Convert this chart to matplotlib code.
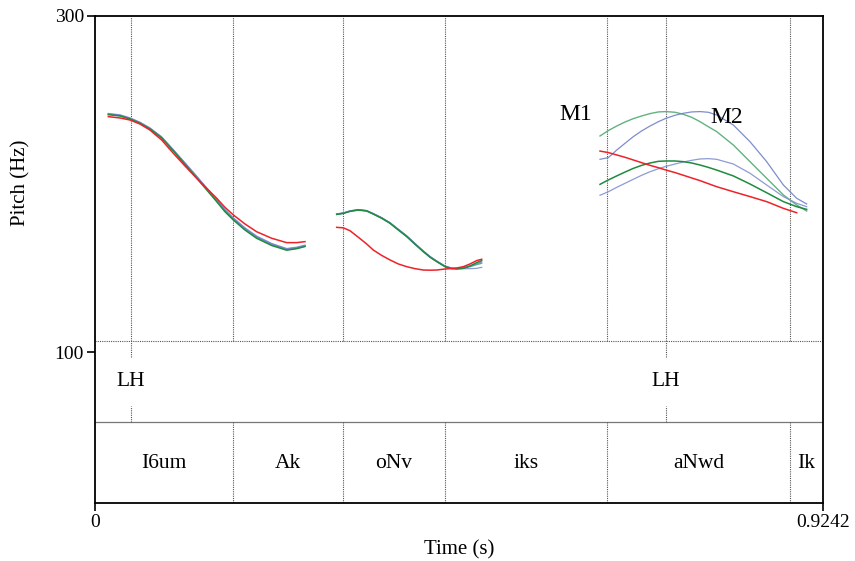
import matplotlib
matplotlib.use("Agg")
import matplotlib.pyplot as plt
import numpy as np

plt.rcParams['font.family'] = ['Liberation Serif', 'DejaVu Serif']

# pitch contours (time in s, pitch in Hz)
seg1_t = [0.0169, 0.0317, 0.0444, 0.0571, 0.0698, 0.0846, 0.0994, 0.1143, 0.1291, 0.1418,
          0.1545, 0.1650, 0.1756, 0.1904, 0.2052, 0.2243, 0.2433, 0.2560, 0.2666]
seg1_blue = [241.7, 240.9, 239.1, 236.5, 233.1, 227.8, 220.2, 212.3, 204.4, 197.4,
             190.5, 184.5, 179.6, 173.6, 168.7, 164.3, 161.3, 162.1, 163.3]
seg1_lblue = [242.0, 241.2, 239.4, 236.8, 233.4, 228.1, 220.5, 212.6, 204.7, 197.7,
              190.8, 184.8, 179.9, 173.9, 169.0, 164.6, 161.6, 162.4, 163.6]
seg1_lgreen = [241.5, 240.7, 238.9, 236.3, 232.9, 227.6, 220.0, 212.0, 204.0, 197.0,
               190.0, 184.0, 179.1, 173.1, 168.2, 163.9, 161.0, 161.8, 163.0]
seg1_green = [241.3, 240.5, 238.7, 236.1, 232.7, 227.4, 219.7, 211.6, 203.5, 196.5,
              189.5, 183.5, 178.6, 172.6, 167.7, 163.4, 160.6, 161.5, 162.8]
seg1_red = [240.1, 239.3, 238.1, 235.7, 232.1, 226.2, 218.3, 210.7, 203.4, 197.4,
            191.5, 186.1, 181.6, 176.2, 171.6, 167.7, 165.1, 165.1, 165.7]

seg2_t = [0.3068, 0.3153, 0.3237, 0.3343, 0.3449, 0.3533, 0.3639, 0.3745, 0.3851, 0.3957, 0.4063,
          0.4168, 0.4253, 0.4338, 0.4443, 0.4528, 0.4592, 0.4676, 0.4761, 0.4845, 0.4909]
seg2_red = [174.2, 173.9, 172.2, 168.3, 164.3, 160.7, 157.5, 154.8, 152.4, 150.8, 149.6,
            148.8, 148.7, 148.8, 149.4, 149.7, 150.0, 150.8, 152.4, 154.4, 155.2]
seg2_green = [181.9, 182.5, 183.7, 184.5, 183.9, 182.1, 179.6, 176.6, 172.6, 168.7, 164.1,
              159.7, 156.4, 153.8, 150.8, 149.6, 149.4, 149.8, 151.2, 153.2, 154.4]
seg2_lgreen = [182.1, 182.7, 183.9, 184.7, 184.1, 182.3, 179.8, 176.8, 172.8, 168.9, 164.3,
               159.9, 156.6, 154.0, 151.0, 149.8, 149.6, 149.9, 150.8, 152.0, 152.8]
seg2_blue = [182.2, 182.8, 184.0, 184.8, 184.2, 182.4, 180.0, 177.0, 173.1, 169.2, 164.6,
             160.2, 156.9, 154.2, 151.2, 150.0, 149.8, 150.2, 151.2, 152.4, 153.6]
seg2_lblue = [182.0, 182.6, 183.8, 184.6, 184.0, 182.2, 179.8, 176.8, 172.9, 169.0, 164.4,
              160.0, 156.7, 154.0, 151.0, 149.8, 149.6, 149.6, 149.6, 149.8, 150.4]

seg3_t = [0.6411, 0.6517, 0.6623, 0.6728, 0.6834, 0.6940, 0.7046, 0.7152, 0.7249, 0.7363, 0.7469,
          0.7575, 0.7681, 0.7786, 0.7892, 0.8104, 0.8315, 0.8527, 0.8739, 0.8908, 0.9035]
seg3_red = [219.6, 218.7, 217.3, 215.9, 214.3, 212.7, 211.1, 209.7, 208.3, 206.8, 205.2,
            203.6, 202.0, 200.2, 198.4, 195.4, 192.5, 189.5, 185.5, 182.9, np.nan]
seg3_green = [199.8, 202.4, 204.8, 207.1, 209.3, 211.1, 212.5, 213.5, 213.7, 213.7, 213.3,
              212.5, 211.3, 209.9, 208.3, 204.8, 200.0, 194.8, 189.5, 186.5, 184.9]
seg3_lgreen = [228.6, 231.8, 234.5, 236.9, 238.9, 240.5, 241.9, 242.9, 243.1, 242.7, 241.5,
               239.7, 237.1, 234.1, 231.2, 223.2, 213.3, 203.4, 193.5, 187.5, 183.9]
seg3_blue = [214.7, 215.7, 220.2, 224.2, 228.2, 231.6, 234.5, 237.1, 239.1, 240.9, 242.1,
             242.9, 243.1, 242.7, 241.1, 235.1, 225.2, 213.3, 199.4, 191.5, 188.1]
seg3_lblue = [193.3, 195.4, 198.0, 200.4, 202.8, 205.2, 207.3, 209.1, 210.5, 211.9, 213.1,
              214.1, 214.9, 215.1, 214.7, 211.9, 206.4, 199.4, 192.5, 188.5, 186.5]

# TextGrid
tone_times = [0.0453, 0.7249]
tone_labels = ['LH', 'LH']
seg_bounds = [0.0, 0.1752, 0.3148, 0.4443, 0.6500, 0.8823, 0.9242]
seg_labels = ['I6um', 'Ak', 'oNv', 'iks', 'aNwd', 'Ik']

t_max = 0.9242
hz_low, hz_high = 10.12, 300
tier1_top, tier2_top = 106.55, 58.33

series = [
    ('lgreen', '#5aae7a', 0.95, 1.0),
    ('lblue', '#8190d0', 0.9, 0.9),
    ('blue', '#7080c8', 0.9, 0.9),
    ('green', '#1e8b3f', 1.0, 1.1),
    ('red', '#ee2229', 1.0, 1.1),
]
segs = [
    (seg1_t, dict(red=seg1_red, green=seg1_green, lgreen=seg1_lgreen, blue=seg1_blue, lblue=seg1_lblue)),
    (seg2_t, dict(red=seg2_red, green=seg2_green, lgreen=seg2_lgreen, blue=seg2_blue, lblue=seg2_lblue)),
    (seg3_t, dict(red=seg3_red, green=seg3_green, lgreen=seg3_lgreen, blue=seg3_blue, lblue=seg3_lblue)),
]

fig = plt.figure(figsize=(8.55, 5.61), dpi=100)
ax = fig.add_axes([95 / 855, 58 / 561, 728 / 855, 487 / 561])
ax.set_xlim(0, t_max)
ax.set_ylim(hz_low, hz_high)

dot = dict(color='#555555', linestyle=(0, (1, 1)), linewidth=0.8)

# boundaries through the pitch area
for b in seg_bounds[1:-1] + tone_times:
    ax.plot([b, b], [tier1_top, hz_high], **dot)
# tier lines
ax.plot([0, t_max], [tier1_top, tier1_top], **dot)
ax.plot([0, t_max], [tier2_top, tier2_top], color='#777777', linewidth=0.9)

# point tier
for t, lab in zip(tone_times, tone_labels):
    ax.plot([t, t], [97.0, tier1_top], **dot)
    ax.plot([t, t], [tier2_top, 67.9], **dot)
    ax.text(t, 82.7, lab, ha='center', va='center', fontsize=15.5)

# interval tier
for i, lab in enumerate(seg_labels):
    if 0 < i:
        ax.plot([seg_bounds[i], seg_bounds[i]], [hz_low, tier2_top], **dot)
    mid = (seg_bounds[i] + seg_bounds[i + 1]) / 2
    ax.text(mid, 33.9, lab, ha='center', va='center', fontsize=15.5)

# pitch contours
for t, vals in segs:
    for key, col, alpha, lw in series:
        ax.plot(t, vals[key], color=col, alpha=alpha, linewidth=lw)

ax.text(0.6106, 241.1, 'M1', ha='center', va='center', fontsize=17)
ax.text(0.8023, 239.3, 'M2', ha='center', va='center', fontsize=17)

for s in ax.spines.values():
    s.set_linewidth(1.3)
ax.set_xticks([0, t_max])
ax.set_xticklabels(['0', '0.9242'])
ax.set_yticks([100, 300])
ax.set_yticklabels(['100', '300'])
ax.tick_params(direction='out', length=6, width=1.2, labelsize=14, pad=2)

ax.set_xlabel('Time (s)', fontsize=15)
ax.xaxis.set_label_coords(0.5, -0.076)
ax.set_ylabel('Pitch (Hz)', fontsize=15)
ax.yaxis.set_label_coords(-0.089, 0.657)

fig.savefig('out.png', dpi=100)
